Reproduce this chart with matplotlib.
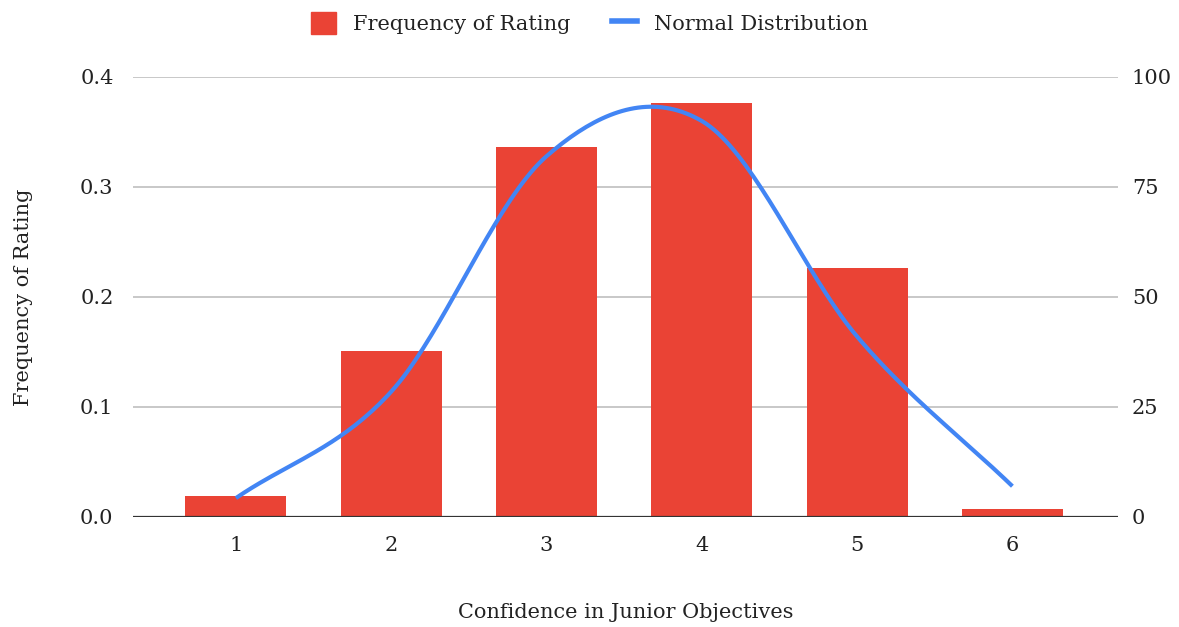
import numpy as np
import matplotlib
matplotlib.use("Agg")
import matplotlib.pyplot as plt
from matplotlib.lines import Line2D
from matplotlib.patches import Patch

# data
ratings = [1, 2, 3, 4, 5, 6]
freq = [0.019, 0.151, 0.336, 0.376, 0.226, 0.007]
normal = [4.3, 28.5, 82.0, 90.0, 41.0, 7.0]

red = "#EA4335"
blue = "#4285F4"
txt = "#222222"

plt.rcParams["font.family"] = ["DejaVu Serif"]


def smooth(x, y, n=40):
    # catmull-rom curve through the points, just for drawing
    x = np.asarray(x, float)
    y = np.asarray(y, float)
    px = np.concatenate([[2 * x[0] - x[1]], x, [2 * x[-1] - x[-2]]])
    py = np.concatenate([[2 * y[0] - y[1]], y, [2 * y[-1] - y[-2]]])
    xs, ys = [], []
    t = np.linspace(0, 1, n)
    for i in range(1, len(px) - 2):
        for p, out in ((px, xs), (py, ys)):
            p0, p1, p2, p3 = p[i - 1], p[i], p[i + 1], p[i + 2]
            out.extend(0.5 * (2 * p1 + (-p0 + p2) * t
                              + (2 * p0 - 5 * p1 + 4 * p2 - p3) * t ** 2
                              + (-p0 + 3 * p1 - 3 * p2 + p3) * t ** 3))
    return np.array(xs), np.array(ys)


fig = plt.figure(figsize=(11.79, 6.27), dpi=100)
ax = fig.add_axes([133 / 1179, 110 / 627, 985 / 1179, 440 / 627])
ax2 = ax.twinx()

ax.bar(ratings, freq, width=0.65, color=red, zorder=2)
sx, sy = smooth(ratings, normal)
ax2.plot(sx, sy, color=blue, lw=3, solid_capstyle="butt", zorder=3)

ax.set_xlim(0.337, 6.68)
ax.set_ylim(0, 0.4)
ax2.set_ylim(0, 100)
ax.set_yticks([0, 0.1, 0.2, 0.3, 0.4])
ax.set_yticklabels(["0.0", "0.1", "0.2", "0.3", "0.4"])
ax2.set_yticks([0, 25, 50, 75, 100])
ax.set_xticks(ratings)

ax.yaxis.grid(True, color="#c8c8c8", lw=1.4)
ax.set_axisbelow(True)
for a in (ax, ax2):
    for s in a.spines.values():
        s.set_visible(False)
    a.tick_params(length=0, labelsize=15, colors=txt)
ax.tick_params(axis="y", pad=14)
ax2.tick_params(axis="y", pad=10)
ax.tick_params(axis="x", pad=14)
ax.axhline(0, color="#333333", lw=1.6, zorder=4)

ax.set_xlabel("Confidence in Junior Objectives", fontsize=15, color=txt, labelpad=34)
ax.set_ylabel("Frequency of Rating", fontsize=15, color=txt, labelpad=34)

handles = [Patch(color=red), Line2D([], [], color=blue, lw=4)]
fig.legend(handles, ["Frequency of Rating", "Normal Distribution"],
           loc="upper center", bbox_to_anchor=(0.5, 1.01), ncol=2, frameon=False,
           fontsize=15, handlelength=1.2, handleheight=1.2, columnspacing=2.0,
           labelcolor=txt)

fig.savefig("out.png", dpi=100)
